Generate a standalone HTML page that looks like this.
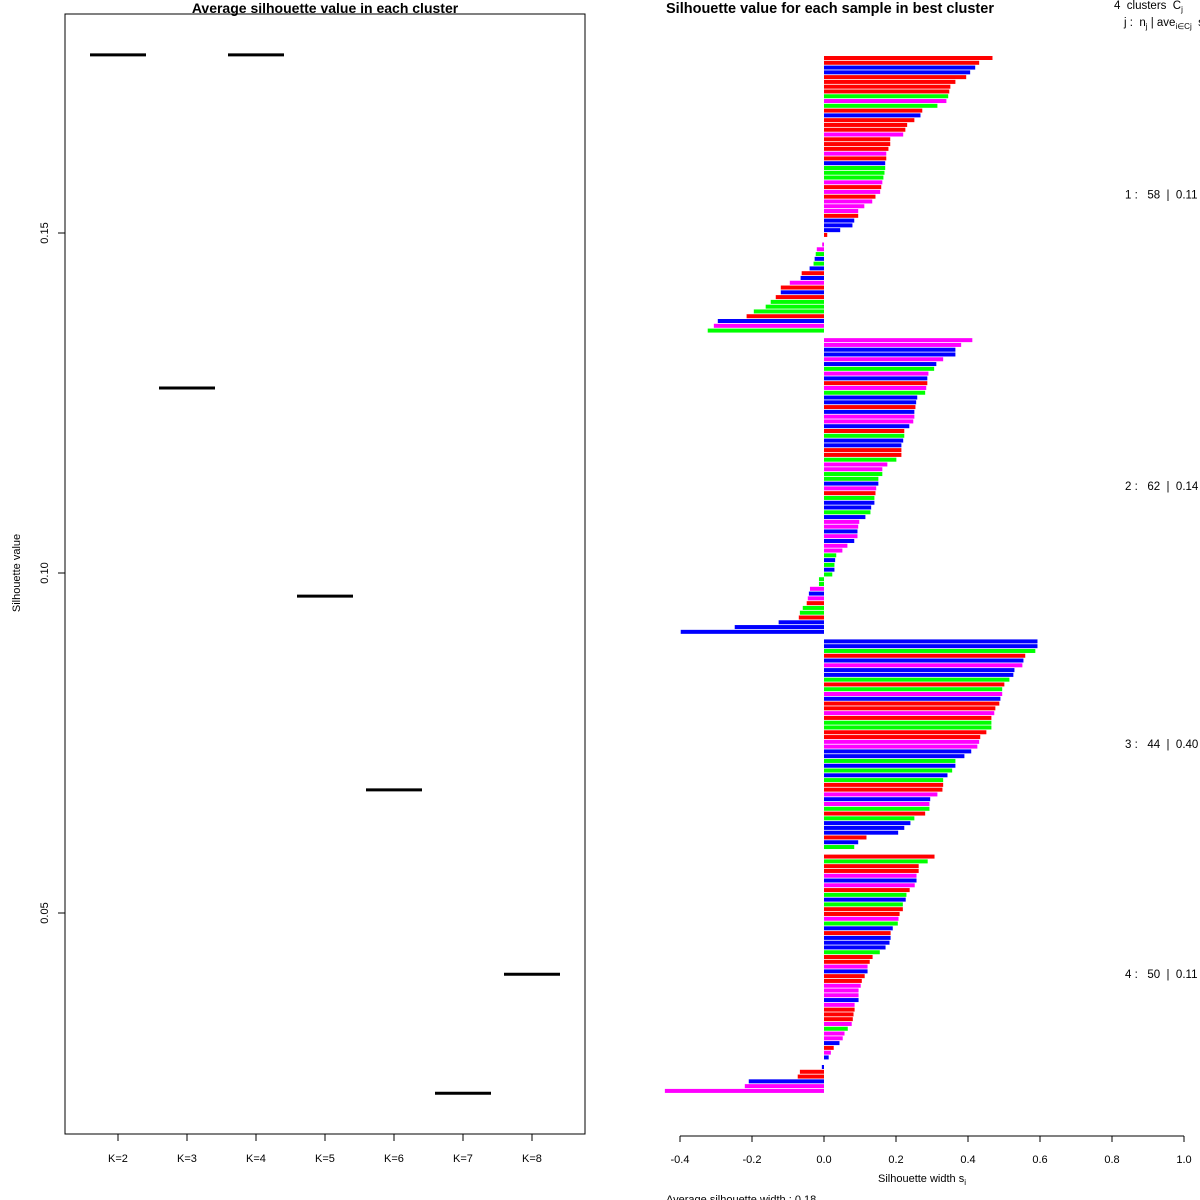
<!DOCTYPE html>
<html><head><meta charset="utf-8"><style>
html,body{margin:0;padding:0;background:#fff;}
svg{display:block;font-family:"Liberation Sans",Arial,sans-serif;}
</style></head><body>
<svg id="chart" width="1200" height="1200" viewBox="0 0 1200 1200">
  <rect width="1200" height="1200" fill="#fff"/>
  <g id="left">
    <text x="325" y="13" font-size="14" font-weight="bold" text-anchor="middle">Average silhouette value in each cluster</text>
    <rect x="65" y="14" width="520" height="1120" fill="none" stroke="#000" stroke-width="1"/>
    <text transform="translate(20,573) rotate(-90)" font-size="11" text-anchor="middle">Silhouette value</text>
  </g>
  <g id="right">
    <text x="666" y="13" font-size="14.5" font-weight="bold">Silhouette value for each sample in best cluster</text>
    <text x="1114" y="9" font-size="11.5" style="white-space:pre">4  clusters  C<tspan font-size="8" dy="3">j</tspan></text>
    <text x="1124" y="26" font-size="11.5" style="white-space:pre">j :  n<tspan font-size="8" dy="3">j</tspan><tspan dy="-3"> | ave</tspan><tspan font-size="8" dy="3">i∈Cj</tspan><tspan dy="-3">  s</tspan></text>
    <line x1="680" y1="1136" x2="1184" y2="1136" stroke="#000"/>
    <text x="922" y="1182" font-size="11" text-anchor="middle">Silhouette width s<tspan font-size="8" dy="3">i</tspan></text>
    <text x="666" y="1203" font-size="11">Average silhouette width :  0.18</text>
  </g>
</svg>
<script>
const NS = "http://www.w3.org/2000/svg";
const kLabels = ["K=2","K=3","K=4","K=5","K=6","K=7","K=8"];
const kValues = [0.1762,0.1272,0.1762,0.0966,0.0681,0.0235,0.0410];
const yTicks = [0.05,0.10,0.15];
const yTickLabels = ["0.05","0.10","0.15"];

const clusterSizes = [58,62,44,50];
const clusterAvg = ["0.11","0.14","0.40","0.11"];
const c1Vals = [0.468,0.431,0.420,0.406,0.395,0.365,0.351,0.348,0.345,0.340,0.315,0.273,0.268,0.251,0.231,0.226,0.220,0.184,0.184,0.179,0.173,0.173,0.170,0.170,0.168,0.165,0.162,0.159,0.156,0.143,0.134,0.112,0.095,0.095,0.084,0.079,0.045,0.009,0,-0.005,-0.020,-0.023,-0.026,-0.029,-0.040,-0.062,-0.065,-0.095,-0.120,-0.120,-0.134,-0.148,-0.162,-0.195,-0.215,-0.295,-0.306,-0.323];
const c1Cols = "rrbbrrrrgmgrbrrrmrrrmrbgggmrmrmmmrbbbrrmmgbgbrbmrbrgggrbmg";
const c2Vals = [0.412,0.381,0.365,0.365,0.331,0.312,0.306,0.290,0.287,0.287,0.284,0.281,0.259,0.256,0.254,0.251,0.251,0.248,0.237,0.223,0.223,0.220,0.215,0.215,0.215,0.201,0.176,0.162,0.162,0.151,0.151,0.145,0.143,0.140,0.140,0.131,0.129,0.115,0.098,0.095,0.093,0.093,0.084,0.065,0.051,0.034,0.031,0.029,0.029,0.023,-0.014,-0.014,-0.039,-0.042,-0.045,-0.048,-0.059,-0.067,-0.070,-0.126,-0.248,-0.398];
const c2Cols = "mmbbmbgmbrmgbbrbmmbrgbbrrgmmggbmrgbbgbmmbmbmmgbgbgggmbmrggrbbb";
const c3Vals = [0.593,0.593,0.587,0.559,0.554,0.551,0.529,0.526,0.515,0.501,0.495,0.495,0.490,0.487,0.476,0.473,0.465,0.465,0.465,0.451,0.434,0.431,0.426,0.409,0.390,0.365,0.365,0.356,0.343,0.331,0.331,0.329,0.315,0.295,0.293,0.293,0.281,0.251,0.240,0.223,0.206,0.118,0.095,0.084];
const c3Cols = "bbgrbmbbgrgmbrrmrggrrmmbbgbgbgrrmbmgrgbbbrbg";
const c4Vals = [0.307,0.288,0.263,0.263,0.257,0.257,0.252,0.238,0.229,0.227,0.219,0.219,0.210,0.207,0.205,0.191,0.185,0.185,0.182,0.171,0.155,0.135,0.127,0.121,0.121,0.113,0.105,0.102,0.096,0.096,0.096,0.085,0.085,0.082,0.080,0.077,0.066,0.057,0.052,0.043,0.027,0.019,0.013,0,-0.006,-0.067,-0.073,-0.209,-0.220,-0.442];
const c4Cols = "rgrrmbmrgbgrrmgbrbbbgrrmbrrmmmbmrrrmgmmbrmbbbrrbmm";
const xTicks = [-0.4,-0.2,0,0.2,0.4,0.6,0.8,1.0];
const xTickLabels = ["-0.4","-0.2","0.0","0.2","0.4","0.6","0.8","1.0"];

const colorMap = {r:"#ff0000",b:"#0000ff",g:"#00ff00",m:"#ff00ff"};
function yL(v){ return 233 - (v - 0.15) * 6800; }
function xK(i){ return 118 + i * 69; }
function xS(v){ return 824 + v * 360; }
function ySlot(i){ return 58 + i * 4.782; }
function mk(tag, attrs, parent){ const e = document.createElementNS(NS, tag); for (const k in attrs) e.setAttribute(k, attrs[k]); parent.appendChild(e); return e; }

const left = document.getElementById("left");
const right = document.getElementById("right");

yTicks.forEach((t, i) => {
  const ln = mk("line", {x1:58, x2:65, y1:yL(t), y2:yL(t), stroke:"#000"}, left);
  
  
  const tx = mk("text", {transform:`translate(48,${yL(t)}) rotate(-90)`, "font-size":11, "text-anchor":"middle"}, left);
  tx.textContent = yTickLabels[i];
  
  
});
kLabels.forEach((lab, i) => {
  const ln = mk("line", {x1:xK(i), x2:xK(i), y1:1134, y2:1141, stroke:"#000"}, left);
  
  
  const tx = mk("text", {x:xK(i), y:1162, "font-size":11, "text-anchor":"middle"}, left);
  tx.textContent = lab;
  
  
  const seg = mk("line", {x1:xK(i)-28, x2:xK(i)+28, y1:yL(kValues[i]), y2:yL(kValues[i]), stroke:"#000", "stroke-width":3}, left);
  
  
});

xTicks.forEach((t, i) => {
  const ln = mk("line", {x1:xS(t), x2:xS(t), y1:1136, y2:1142, stroke:"#000"}, right);
  
  
  const tx = mk("text", {x:xS(t), y:1163, "font-size":11, "text-anchor":"middle"}, right);
  tx.textContent = xTickLabels[i];
  
  
});

const allVals = [c1Vals, c2Vals, c3Vals, c4Vals];
const allCols = [c1Cols, c2Cols, c3Cols, c4Cols];
let slot = 0;
allVals.forEach((vals, c) => {
  const start = slot;
  vals.forEach((v, j) => {
    if (v !== 0) {
      const x0 = Math.min(xS(0), xS(v));
      const r = mk("rect", {x:x0, y:ySlot(slot)-2, width:Math.abs(xS(v)-xS(0)), height:4, fill:colorMap[allCols[c][j]]}, right);
      
      
    }
    slot++;
  });
  const mid = (ySlot(start) + ySlot(slot - 1)) / 2;
  const tx = mk("text", {x:1125, y:mid + 4, "font-size":11.5, style:"white-space:pre"}, right);
  tx.textContent = `${c+1} :   ${clusterSizes[c]}  |  ${clusterAvg[c]}`;
  
  
  slot++;
});
</script>
</body></html>
